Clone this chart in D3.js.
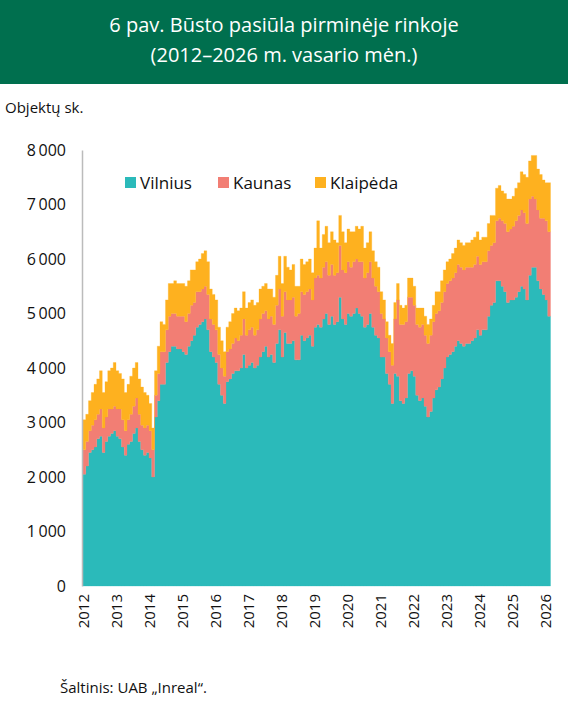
<!DOCTYPE html>
<html><head><meta charset="utf-8">
<script src="https://cdn.jsdelivr.net/npm/d3@7"></script>
<style>body{margin:0;background:#fff}svg{display:block;font-family:"Open Sans",sans-serif}</style>
</head><body><svg id="c" width="568" height="709"></svg>
<script>
const categories = ["Vilnius","Kaunas","Klaipėda"];
const startYear = 2012;
const yTicks = [0,1000,2000,3000,4000,5000,6000,7000,8000];
const xTicks = d3.range(2012,2027);
const vilnius = [
2050,2200,2450,2500,2550,2700,2750,2450,2650,2750,2800,2850,
2750,2700,2550,2400,2600,2650,2800,2900,2650,2500,2400,2450,
2350,2000,3100,3400,3700,3700,4100,4300,4400,4400,4350,4350,
4300,4250,4400,4500,4600,4750,4800,4850,4900,4700,4300,4200,
4100,3700,3500,3350,3750,3800,3900,3950,3950,4000,4250,4000,
4050,4100,4000,4050,4200,4300,4400,4200,4250,4100,4450,4700,
4200,4650,4450,4450,4500,4150,4150,4600,4500,4550,4600,4400,
4750,4800,4750,4900,5000,4800,4950,4800,4850,5300,4900,4800,
5000,4950,5000,5100,5000,4950,4750,4800,5000,4750,4600,4550,
4200,4200,3900,3700,3350,3900,3850,3400,3350,3450,3900,3950,
3850,3500,3400,3450,3300,3100,3200,3450,3600,3650,3800,4000,
4200,4250,4300,4400,4500,4450,4400,4450,4450,4500,4550,4700,
4600,4700,4700,4950,5150,5200,5600,5600,5500,5400,5200,5250,
5250,5300,5400,5500,5450,5250,5700,5850,5850,5600,5450,5350,
5250,4950];
const kaunas = [
450,450,400,450,500,450,500,450,450,500,450,450,
500,550,500,450,450,500,500,550,500,450,500,500,
500,500,400,500,600,600,600,650,600,600,600,600,
650,600,600,650,600,650,600,600,600,650,600,600,
600,550,500,500,550,550,550,600,550,600,650,600,
650,650,600,650,700,700,650,700,700,700,700,750,
750,750,800,800,800,800,850,800,850,850,850,850,
900,900,900,950,950,900,950,900,900,950,900,950,
950,900,950,900,950,1000,900,950,950,900,900,850,
800,700,650,600,700,1000,1400,1400,1450,1400,1400,1350,
1300,1300,1350,1350,1300,1350,1400,1400,1400,1400,1400,1400,
1350,1350,1350,1350,1400,1400,1400,1400,1400,1350,1350,1350,
1300,1250,1250,1200,1100,1100,1100,1150,1200,1250,1300,1300,
1350,1400,1400,1400,1400,1400,1400,1300,1250,1300,1300,1400,
1450,1550];
const klaipeda = [
550,500,550,600,650,650,700,650,650,700,750,800,
700,650,750,700,650,700,700,650,650,700,650,550,
500,400,450,500,550,500,550,600,550,600,600,600,
600,650,600,650,600,550,600,650,650,600,550,550,
550,500,500,450,450,500,550,550,550,500,500,500,
500,500,550,500,550,500,500,550,500,500,550,600,
600,650,600,550,600,550,500,600,550,550,550,500,
550,1000,550,600,650,600,600,650,550,550,700,550,
600,650,550,600,600,650,550,550,550,500,450,450,
400,350,300,300,400,300,300,350,300,300,350,350,
350,300,350,300,350,350,300,300,400,350,400,400,
400,400,450,450,450,450,450,450,450,500,500,450,
450,450,450,500,550,500,600,600,550,550,600,550,
550,600,600,700,700,850,700,750,800,750,800,700,
700,900];
const colors = ["#2BBABA","#F27E74","#FEB11F"];

const rows = vilnius.map((v,i)=>({t:startYear+i/12, Vilnius:v, Kaunas:kaunas[i], "Klaipėda":klaipeda[i]}));
rows.push(Object.assign({}, rows[rows.length-1], {t:startYear+rows.length/12}));
const svg = d3.select("#c");
svg.append("rect").attr("width",568).attr("height",84).attr("fill","#006F4E");
svg.append("text").attr("x",284).attr("y",32).attr("text-anchor","middle").attr("fill","#fff").attr("font-size",20).text("6 pav. Būsto pasiūla pirminėje rinkoje");
svg.append("text").attr("x",284).attr("y",62).attr("text-anchor","middle").attr("fill","#fff").attr("font-size",20).text("(2012–2026 m. vasario mėn.)");
svg.append("text").attr("x",5).attr("y",113).attr("font-size",15).attr("fill","#111").text("Objektų sk.");

const x = d3.scaleLinear().domain([2012,2026]).range([83,545]);
const y = d3.scaleLinear().domain([0,8000]).range([586,150]);
const stack = d3.stack().keys(categories)(rows);
const area = d3.area().curve(d3.curveStepAfter).x(d=>x(d.data.t)).y0(d=>y(d[0])).y1(d=>y(d[1]));
svg.append("g").selectAll("path").data(stack).join("path").attr("d",area).attr("fill",(d,i)=>colors[i]).attr("stroke",(d,i)=>colors[i]).attr("stroke-width",0.3);

const ya = svg.append("g").attr("transform","translate(82,0)").call(d3.axisLeft(y).tickValues(yTicks).tickSize(0).tickPadding(16).tickFormat(d=>d3.format(",")(d).replace(",","\u2009")));
ya.select(".domain").attr("stroke","#bbb").attr("stroke-width",1.5);
ya.selectAll("text").attr("font-size",16).attr("fill","#111").attr("font-family","'Open Sans',sans-serif");
const xa = svg.append("g").attr("transform","translate(0,586)").call(d3.axisBottom(x).tickValues(xTicks).tickSize(0).tickFormat(d3.format("d")));
xa.select(".domain").remove();
xa.selectAll("text").attr("font-size",15).attr("fill","#111").attr("font-family","'Open Sans',sans-serif")
  .attr("transform","rotate(-90)").attr("text-anchor","end").attr("x",-8).attr("y",0).attr("dy","0.35em");

const lg = svg.append("g");
const lx = [125,218,315];
categories.forEach((c,i)=>{
  lg.append("rect").attr("x",lx[i]).attr("y",177).attr("width",11).attr("height",11).attr("fill",colors[i]);
  lg.append("text").attr("x",lx[i]+15).attr("y",189).attr("font-size",17).attr("fill","#111").text(c);
});
svg.append("text").attr("x",60).attr("y",693).attr("font-size",15).attr("fill","#111").text("Šaltinis: UAB „Inreal“.");
</script></body></html>
